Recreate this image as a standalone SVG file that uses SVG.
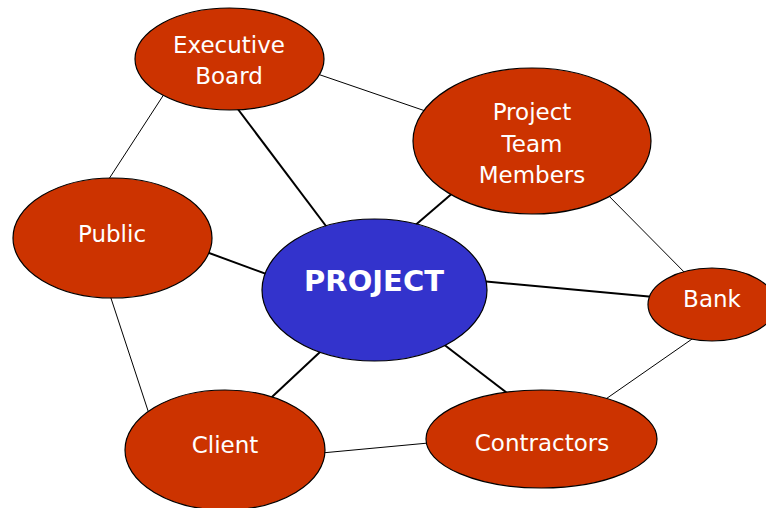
<svg xmlns="http://www.w3.org/2000/svg" width="766" height="508" viewBox="0 0 766 508">
<style>
.n{fill:#CC3300;stroke:#000;stroke-width:1.2}
.p{fill:#3333CC;stroke:#000;stroke-width:1.2}
.t{fill:#fff;font-family:"DejaVu Sans","Liberation Sans",sans-serif;font-size:23px;text-anchor:middle}
.b{font-weight:bold;font-size:29px}
.thin{stroke:#000;stroke-width:1}
.thick{stroke:#000;stroke-width:2}
</style>
<rect width="766" height="508" fill="#fff"/>
<g id="connectors">
<line class="thin" x1="170" y1="85" x2="105" y2="185"/>
<line class="thick" x1="225" y1="92" x2="332" y2="234"/>
<line class="thin" x1="300" y1="68" x2="440" y2="116"/>
<line class="thick" x1="462" y1="185" x2="405" y2="234"/>
<line class="thin" x1="600" y1="187" x2="695" y2="283"/>
<line class="thick" x1="190" y1="246" x2="280" y2="279"/>
<line class="thick" x1="470" y1="280" x2="665" y2="298"/>
<line class="thin" x1="105" y1="280" x2="155" y2="432"/>
<line class="thick" x1="335" y1="338" x2="258" y2="410"/>
<line class="thick" x1="425" y1="330" x2="520" y2="403"/>
<line class="thin" x1="705" y1="330" x2="590" y2="410"/>
<line class="thin" x1="300" y1="455" x2="450" y2="441"/>
</g>
<g id="executive-board">
<ellipse class="n" cx="229.5" cy="59" rx="94.5" ry="51"/>
<text class="t" x="229" y="53">Executive</text>
<text class="t" x="229" y="84">Board</text>
</g>
<g id="project-team-members">
<ellipse class="n" cx="532" cy="141" rx="119" ry="73"/>
<text class="t" x="532" y="120">Project</text>
<text class="t" x="532" y="152">Team</text>
<text class="t" x="532" y="183">Members</text>
</g>
<g id="public">
<ellipse class="n" cx="112.5" cy="238" rx="99.5" ry="60"/>
<text class="t" x="112" y="242">Public</text>
</g>
<g id="project">
<ellipse class="p" cx="374.5" cy="290" rx="112.5" ry="71"/>
<text class="t b" x="374" y="291">PROJECT</text>
</g>
<g id="bank">
<ellipse class="n" cx="712" cy="304.5" rx="64" ry="36.5"/>
<text class="t" x="712" y="307">Bank</text>
</g>
<g id="client">
<ellipse class="n" cx="225" cy="450" rx="100" ry="60"/>
<text class="t" x="225" y="453">Client</text>
</g>
<g id="contractors">
<ellipse class="n" cx="541.5" cy="439" rx="115.5" ry="49"/>
<text class="t" x="542" y="451">Contractors</text>
</g>
</svg>
